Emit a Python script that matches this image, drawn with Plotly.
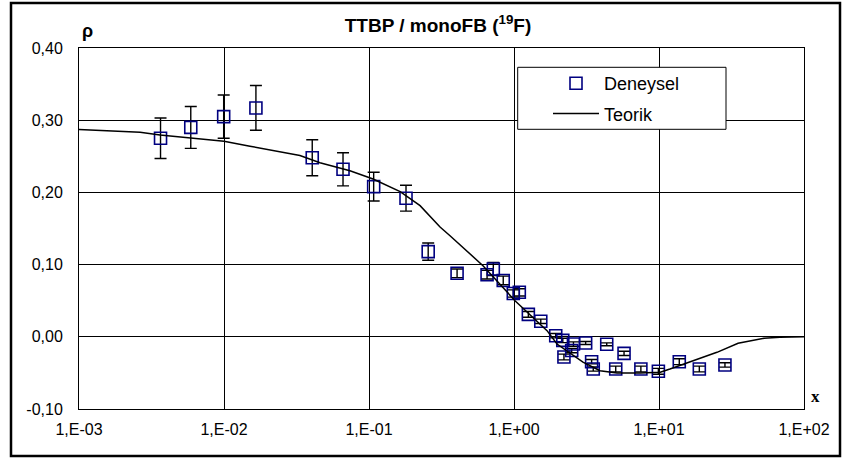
import plotly.graph_objects as go

# Experimental data (Deneysel)
exp_x = [0.00365, 0.0059, 0.00995, 0.0166, 0.0406, 0.0662, 0.1077, 0.180, 0.256,
         0.405, 0.652, 0.720, 0.843, 0.989, 1.088, 1.256, 1.53, 1.94, 2.17, 2.57,
         3.12, 2.50, 2.21, 4.36, 5.74, 3.43, 3.52, 5.03, 7.5, 9.9, 13.8, 18.97, 28.5]
exp_y = [0.275, 0.290, 0.305, 0.317, 0.248, 0.232, 0.208, 0.192, 0.118,
         0.088, 0.086, 0.094, 0.078, 0.060, 0.0616, 0.031, 0.0215, 0.0015, -0.005, -0.010,
         -0.0086, -0.019, -0.028, -0.0104, -0.023, -0.0345, -0.0446, -0.0446, -0.0446, -0.0478,
         -0.0345, -0.0446, -0.039]
exp_err = [0.028, 0.029, 0.030, 0.031, 0.025, 0.023, 0.020, 0.018, 0.012,
           0.006, 0.006, 0.009, 0.006, 0.005, 0.005, 0.004, 0.003, 0.003, 0.003, 0.003,
           0.002, 0.003, 0.004, 0.002, 0.003, 0.003, 0.003, 0.004, 0.004, 0.004,
           0.004, 0.004, 0.003]

# Theoretical curve (Teorik)
th_x = [0.001, 0.00164, 0.00264, 0.00362, 0.00611, 0.01, 0.0151, 0.0255, 0.0334,
        0.0459, 0.0739, 0.1067, 0.164, 0.225, 0.309, 0.362, 0.611, 1.016, 1.69,
        1.98, 2.55, 2.99, 3.92, 5.13, 7.4, 10.2, 11.9, 17.1, 25.1, 35.1, 53.0, 68.2, 100.0]
th_y = [0.287, 0.2855, 0.2832, 0.2795, 0.2753, 0.271, 0.264, 0.2555, 0.251,
        0.241, 0.230, 0.2186, 0.201, 0.1816, 0.152, 0.140, 0.0985, 0.050, 0.0085,
        -0.010, -0.026, -0.035, -0.047, -0.050, -0.050, -0.049, -0.0446, -0.033, -0.0215,
        -0.009, -0.002, -0.0007, 0.0]

x_tickvals = [0.001, 0.01, 0.1, 1, 10, 100]
x_ticktext = ["1,E-03", "1,E-02", "1,E-01", "1,E+00", "1,E+01", "1,E+02"]
y_tickvals = [-0.1, 0.0, 0.1, 0.2, 0.3, 0.4]
y_ticktext = ["-0,10", "0,00", "0,10", "0,20", "0,30", "0,40"]

fig = go.Figure()
fig.add_trace(go.Scatter(
    x=exp_x, y=exp_y, mode="markers", name="Deneysel", legendgroup="a",
    marker=dict(symbol="square-open", size=12, color="#000080", line=dict(width=1.6, color="#000080")),
    error_y=dict(type="data", array=exp_err, visible=True, color="black", thickness=1.4, width=6),
))
fig.add_trace(go.Scatter(
    x=th_x, y=th_y, mode="lines", name="Teorik", legendgroup="b",
    line=dict(color="black", width=1.5),
))

# legend box and outer frame
fig.add_shape(type="rect", xref="paper", yref="paper",
              x0=(517.7 - 79) / 725, x1=(726 - 79) / 725,
              y0=(409 - 129.3) / 361, y1=(409 - 67.3) / 361,
              line=dict(color="black", width=1), fillcolor="white", layer="above")
fig.add_shape(type="rect", xref="paper", yref="paper",
              x0=(11 - 79) / 725, x1=(840 - 79) / 725,
              y0=(409 - 456) / 361, y1=(409 - 3) / 361,
              line=dict(color="black", width=2.5))

fig.add_annotation(text="<b>ρ</b>", xref="paper", yref="paper",
                   x=(87 - 79) / 725, y=(409 - 31) / 361, showarrow=False,
                   xanchor="center", yanchor="middle",
                   font=dict(family="Liberation Sans", size=18, color="black"))
fig.add_annotation(text="<b>x</b>", xref="paper", yref="paper",
                   x=(816 - 79) / 725, y=(409 - 396) / 361, showarrow=False,
                   xanchor="center", yanchor="middle",
                   font=dict(family="Liberation Serif", size=17, color="black"))

fig.update_layout(
    width=843, height=459,
    margin=dict(l=79, r=39, t=48, b=50),
    paper_bgcolor="white", plot_bgcolor="white",
    font=dict(family="Liberation Sans", size=16, color="black"),
    title=dict(text="<b>TTBP / monoFB (<sup>19</sup>F)</b>", x=438 / 843, xanchor="center",
               y=1 - 25 / 459, yanchor="middle", font=dict(size=19, color="black")),
    showlegend=True,
    legend=dict(x=(548 - 79) / 725, y=(409 - 65) / 361, xanchor="left", yanchor="top",
                bgcolor="rgba(0,0,0,0)", borderwidth=0, font=dict(size=18),
                itemwidth=46, traceorder="grouped", tracegroupgap=4),
    xaxis=dict(type="log", range=[-3, 2], tickvals=x_tickvals, ticktext=x_ticktext,
               showgrid=True, gridcolor="black", gridwidth=1,
               showline=True, linecolor="black", linewidth=1, mirror=True,
               ticks="", zeroline=False, ticklabelstandoff=6),
    yaxis=dict(range=[-0.1, 0.4], tickvals=y_tickvals, ticktext=y_ticktext,
               showgrid=True, gridcolor="black", gridwidth=1,
               showline=True, linecolor="black", linewidth=1, mirror=True,
               ticks="", zeroline=False, ticklabelstandoff=12),
)

fig.write_html("out.html")
